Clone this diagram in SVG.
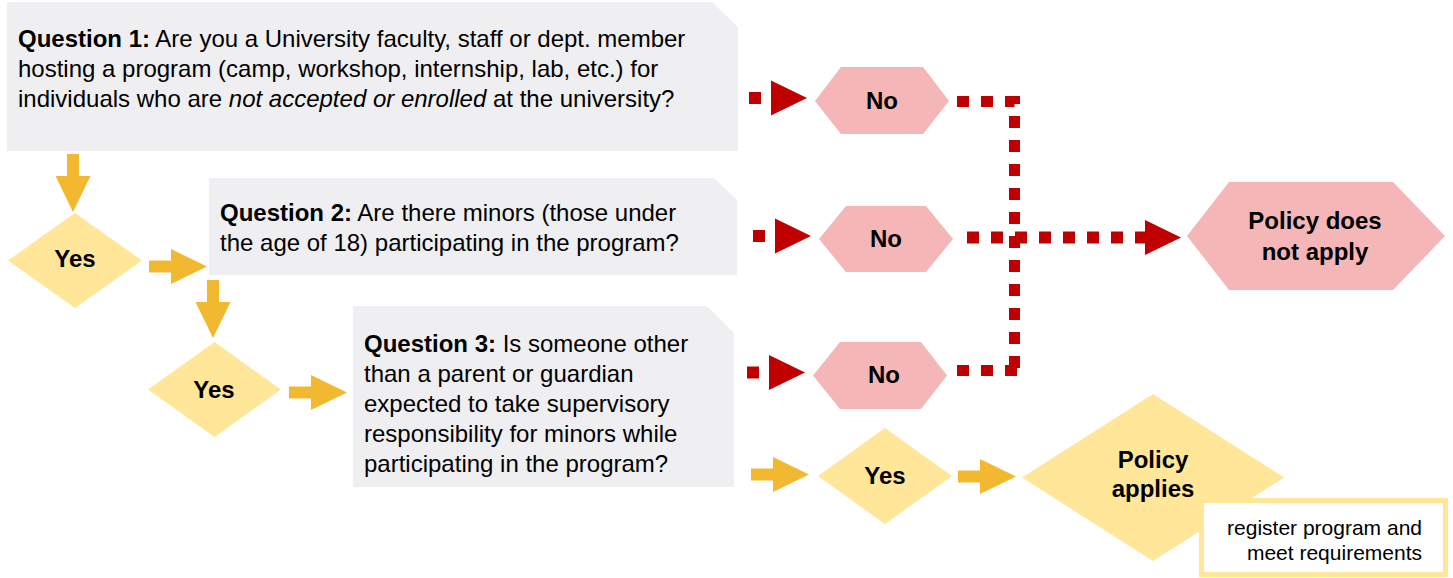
<svg xmlns="http://www.w3.org/2000/svg" width="1453" height="578" viewBox="0 0 1453 578">
<defs>
<style>
.q{fill:#EFEFF1}
.yes{fill:#FFE699}
.no{fill:#F4B6B6}
.t{font-family:"Liberation Sans",Arial,sans-serif;font-size:24px;fill:#000}
.b{font-weight:bold}
.lbl{font-family:"Liberation Sans",Arial,sans-serif;font-size:24px;font-weight:bold;fill:#000;text-anchor:middle}
.note{font-family:"Liberation Sans",Arial,sans-serif;font-size:21px;fill:#000;text-anchor:end}
.ya{stroke:#F2B830;stroke-width:12;fill:none;marker-end:url(#yh)}
.ra{stroke:#C00000;stroke-width:12;fill:none;stroke-dasharray:12 12;marker-end:url(#rh)}
.rd{stroke:#C00000;stroke-width:11;fill:none;stroke-dasharray:12 12}
</style>
<marker id="yh" markerUnits="userSpaceOnUse" markerWidth="36" markerHeight="36" refX="0" refY="17.5" orient="auto" overflow="visible">
<path d="M0,0 L36,17.5 L0,35 Z" fill="#F2B830"/>
</marker>
<marker id="rh" markerUnits="userSpaceOnUse" markerWidth="36" markerHeight="36" refX="0" refY="17.5" orient="auto" overflow="visible">
<path d="M0,0 L36,17.5 L0,35 Z" fill="#C00000"/>
</marker>
</defs>
<rect width="1453" height="578" fill="#fff"/>

<g id="q1">
<path class="q" d="M7,2 H712 L738,27 V151 H7 Z"/>
<text class="t" x="18" y="47"><tspan class="b">Question 1:</tspan> Are you a University faculty, staff or dept. member</text>
<text class="t" x="18" y="77">hosting a program (camp, workshop, internship, lab, etc.) for</text>
<text class="t" x="18" y="107">individuals who are <tspan font-style="italic">not accepted or enrolled</tspan> at the university?</text>
</g>

<g id="q2">
<path class="q" d="M209,178 H714 L737,200 V275 H209 Z"/>
<text class="t" x="220" y="221"><tspan class="b">Question 2:</tspan> Are there minors (those under</text>
<text class="t" x="220" y="251">the age of 18) participating in the program?</text>
</g>

<g id="q3">
<path class="q" d="M353,306 H707 L734,333 V487 H353 Z"/>
<text class="t" x="364" y="352"><tspan class="b">Question 3:</tspan> Is someone other</text>
<text class="t" x="364" y="382">than a parent or guardian</text>
<text class="t" x="364" y="412">expected to take supervisory</text>
<text class="t" x="364" y="442">responsibility for minors while</text>
<text class="t" x="364" y="472">participating in the program?</text>
</g>

<g id="yes1">
<polygon class="yes" points="8,260.5 75,213 142,260.5 75,308"/>
<text class="lbl" x="75" y="267">Yes</text>
</g>
<g id="yes2">
<polygon class="yes" points="148,389.5 214.5,342 281,389.5 214.5,437"/>
<text class="lbl" x="214" y="398">Yes</text>
</g>
<g id="yes3">
<polygon class="yes" points="818,476 885,428 952,476 885,524"/>
<text class="lbl" x="885" y="484">Yes</text>
</g>

<g id="no1">
<polygon class="no" points="815,101 841,67 923,67 949,101 923,134 841,134"/>
<text class="lbl" x="882" y="109">No</text>
</g>
<g id="no2">
<polygon class="no" points="819,239 846,206 926,206 953,239 926,272 846,272"/>
<text class="lbl" x="886" y="247">No</text>
</g>
<g id="no3">
<polygon class="no" points="813,375.5 840,342 921,342 947,375.5 921,409 840,409"/>
<text class="lbl" x="884" y="383">No</text>
</g>

<g id="policy-not">
<polygon class="no" points="1187,236 1229,182 1393,182 1445,236 1393,290 1229,290"/>
<text class="lbl" x="1315" y="229">Policy does</text>
<text class="lbl" x="1315" y="260">not apply</text>
</g>

<g id="policy-applies">
<polygon class="yes" points="1022,477.5 1153,394 1284,477.5 1153,561"/>
<text class="lbl" x="1153" y="468">Policy</text>
<text class="lbl" x="1153" y="497">applies</text>
</g>

<g id="note">
<rect x="1201.5" y="500.5" width="244" height="74" fill="#fff" stroke="#FFE699" stroke-width="5"/>
<text class="note" x="1422" y="535">register program and</text>
<text class="note" x="1422" y="560">meet requirements</text>
</g>

<g id="connectors">
<line class="ya" x1="73" y1="154" x2="73" y2="176"/>
<line class="ya" x1="149" y1="266.5" x2="171" y2="266.5"/>
<line class="ya" x1="213" y1="280" x2="213" y2="302"/>
<line class="ya" x1="289" y1="392.5" x2="311" y2="392.5"/>
<line class="ya" x1="751" y1="474.5" x2="773" y2="474.5"/>
<line class="ya" x1="958" y1="476.5" x2="980" y2="476.5"/>
<line class="ra" x1="749" y1="98" x2="771" y2="98"/>
<line class="ra" x1="753" y1="236" x2="775" y2="236"/>
<line class="ra" x1="747" y1="372.5" x2="769" y2="372.5"/>
<path class="rd" d="M957,101.5 H1014.5 V376"/>
<path class="rd" d="M957,370.5 H1020"/>
<line class="ra" x1="967" y1="237.5" x2="1145" y2="237.5" stroke-width="11"/>
</g>
</svg>
